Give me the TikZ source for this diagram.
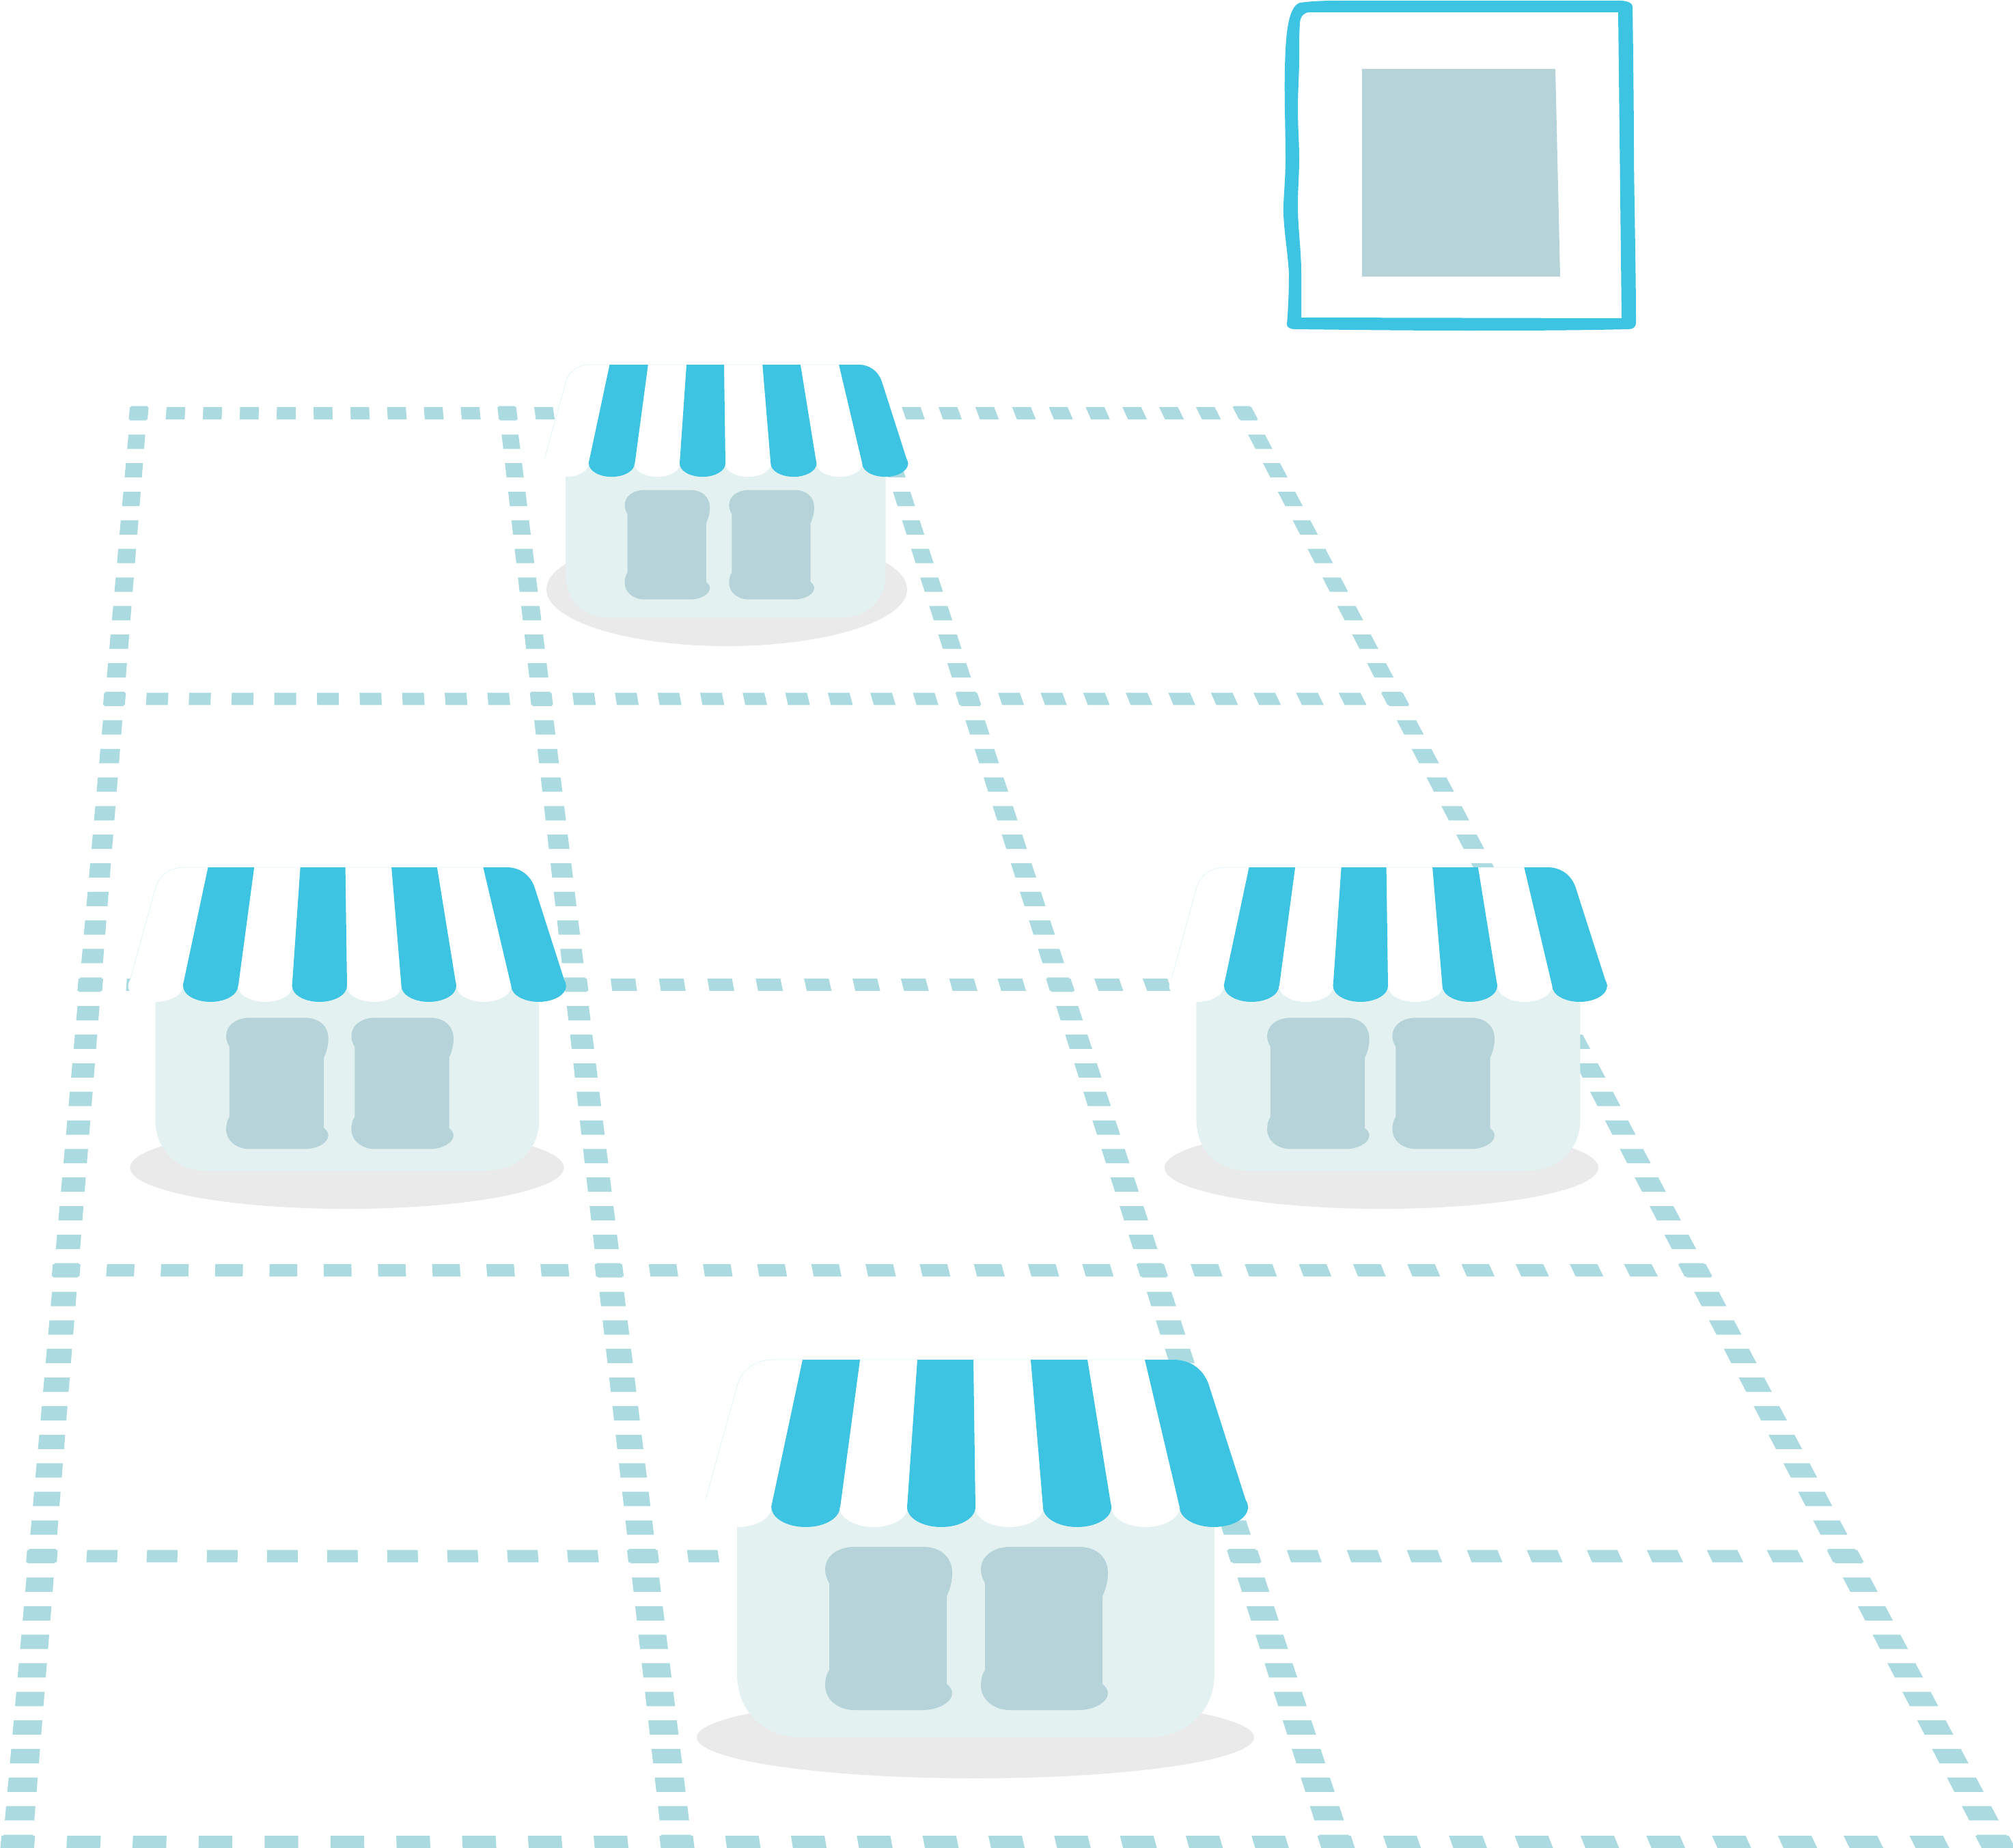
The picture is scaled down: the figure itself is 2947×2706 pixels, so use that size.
\documentclass[tikz,border=0pt]{standalone}
\usepackage{xcolor}
\definecolor{gridteal}{HTML}{ABDBE0}
\definecolor{awningblue}{HTML}{3CC4E2}
\definecolor{shopwall}{HTML}{E3F1F1}
\definecolor{shopglass}{HTML}{B5D3D8}
\definecolor{shopshade}{HTML}{EAEAEA}
\tikzset{
  griddash/.style={fill=gridteal},
  shade/.style={fill=shopshade},
  wall/.style={fill=shopwall},
  glass/.style={fill=shopglass},
  stripe/.style={fill=awningblue},
  whitestripe/.style={fill=white},
  awning/.style={fill=white, draw=awningblue!35, line width=0.08pt},
  frameline/.style={fill=awningblue, even odd rule},
  declare function={gridx(\u,\y)=203-177*((\y-605)/2092)+\u*(540+425*((\y-605)/2092));}
}
% one shop: x, y of the awning's top centre, scale, then the shadow's centre and radii
\newcommand{\shopfront}[7]{
\begin{scope}[shift={(#1,#2)},scale=#3]
\fill[shade] (#4,#5) ellipse [x radius=#6, y radius=#7];
\fill[wall] (-349,216) -- (-349,459) .. controls (-349,515) and (-310,553) .. (-256,553)
  -- (249,553) .. controls (310,553) and (350,515) .. (350,459) -- (350,216) -- cycle;
\foreach \wx in {0,228}
  \fill[glass,shift={(\wx,0)}] (-177,274) -- (-77,274) .. controls (-50,274) and (-34,290) .. (-34,312)
    .. controls (-34,325) and (-37,335) .. (-42,346.5) -- (-42,475) .. controls (-38,478) and (-34,483) .. (-34,488)
    .. controls (-34,502) and (-55,513) .. (-77,513) -- (-177,513) .. controls (-202,513) and (-220,497) .. (-220,477)
    .. controls (-220,468) and (-218,460) .. (-214,454.5) -- (-214,327) .. controls (-218,320) and (-220,314) .. (-220,307)
    .. controls (-220,288) and (-202,274) .. (-177,274) -- cycle;
\path[awning] (-398,216) -- (-348,35) .. controls (-340,12) and (-320,0) .. (-296,0) -- (290,0)
  .. controls (315,0) and (333,14) .. (341,35) -- (399,216) -- cycle;
\foreach \cx in {-348.5,-149,49.5,249}
  \fill[whitestripe] (\cx,216) ellipse [x radius=50, y radius=29];
\fill[stripe] (-253,0) -- (-169,0) -- (-198,216) -- (-299,216) -- cycle;
\fill[stripe] (-85,0) -- (-3,0) -- (0,216) -- (-100,216) -- cycle;
\fill[stripe] (81,0) -- (164,0) -- (199,216) -- (99,216) -- cycle;
\fill[stripe] (248,0) -- (290,0) .. controls (315,0) and (333,14) .. (341,35) -- (399,216) -- (299,216) -- cycle;
\foreach \cx in {-248.5,-50,149,349}
  \fill[stripe] (\cx,216) ellipse [x radius=50, y radius=29];
\end{scope}
}
\begin{document}
\begin{tikzpicture}[x=0.01cm,y=-0.01cm]
\useasboundingbox (0,0) rectangle (2947,2706);
% floor grid, rows then columns
\foreach \row in {0,...,5}{
  \pgfmathsetmacro{\yy}{605+418.4*\row}
  \foreach \k in {0,...,30}{
    \pgfmathsetmacro{\uu}{\k/10}
    \fill[griddash] ({gridx(\uu-.0255,\yy-9)},\yy-9) -- ({gridx(\uu+.0255,\yy-9)},\yy-9)
      -- ({gridx(\uu+.0255,\yy+9)},\yy+9) -- ({gridx(\uu-.0255,\yy+9)},\yy+9) -- cycle;
  }
}
\foreach \uu in {0,1,2,3}{
  \foreach \j in {0,...,50}{
    \pgfmathsetmacro{\yy}{605+41.84*\j}
    \fill[griddash] ({gridx(\uu-.0225,\yy-10.5)},\yy-10.5) -- ({gridx(\uu+.0225,\yy-10.5)},\yy-10.5)
      -- ({gridx(\uu+.0225,\yy+10.5)},\yy+10.5) -- ({gridx(\uu-.0225,\yy+10.5)},\yy+10.5) -- cycle;
  }
}
% shops
\shopfront{1062}{534}{0.67}{3}{491}{394}{124}
\shopfront{508}{1270}{0.804}{0}{547}{395}{75}
\shopfront{2032}{1270}{0.804}{-12}{547}{395}{75}
\shopfront{1428}{1991}{1}{0}{553}{408}{60}
% picture frame
\fill[frameline] (1903,4) .. controls (1925,1) and (1945,1) .. (1967,1) -- (2374,1) .. controls (2385,2) and (2390,5) .. (2390,10)
  .. controls (2391,80) and (2392,160) .. (2392,233) .. controls (2393,320) and (2395,400) .. (2395,473)
  .. controls (2395,478) and (2391,482) .. (2385,482) .. controls (2300,484) and (2220,484) .. (2146,484)
  .. controls (2060,484) and (1980,483) .. (1896,482) .. controls (1888,482) and (1884,479) .. (1884,475)
  .. controls (1886,450) and (1887,425) .. (1887,400) .. controls (1885,365) and (1878,330) .. (1879,300)
  .. controls (1880,278) and (1882,255) .. (1882,233) .. controls (1882,190) and (1880,145) .. (1881,100)
  .. controls (1882,60) and (1884,10) .. (1903,4) -- cycle
  (1917,18) -- (2369,18) -- (2374,466) -- (1905,465) -- (1905,400)
  .. controls (1905,365) and (1900,335) .. (1900,300) .. controls (1900,278) and (1902,255) .. (1902,233)
  .. controls (1902,208) and (1900,185) .. (1900,160) .. controls (1900,135) and (1902,108) .. (1902,83)
  .. controls (1902,65) and (1902,50) .. (1903,33) .. controls (1904,24) and (1909,18) .. (1917,18) -- cycle;
\fill[glass] (1994,101) -- (2277,101) -- (2284,405) -- (1994,405) -- cycle;
\end{tikzpicture}
\end{document}
